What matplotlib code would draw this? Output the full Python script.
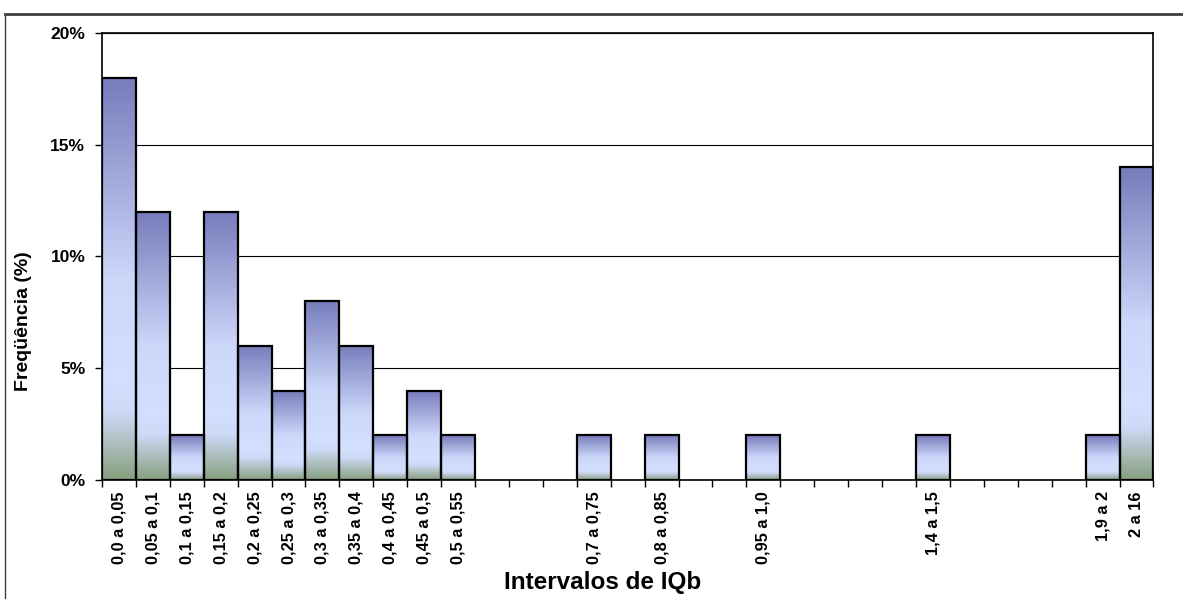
import matplotlib.pyplot as plt
import numpy as np
from matplotlib.colors import LinearSegmentedColormap
from matplotlib.patches import Rectangle
from matplotlib.lines import Line2D

plt.rcParams['font.family'] = ['Liberation Sans', 'DejaVu Sans']

# Dados
intervalos = ['0,0 a 0,05', '0,05 a 0,1', '0,1 a 0,15', '0,15 a 0,2', '0,2 a 0,25',
              '0,25 a 0,3', '0,3 a 0,35', '0,35 a 0,4', '0,4 a 0,45', '0,45 a 0,5',
              '0,5 a 0,55', '', '', '', '0,7 a 0,75', '', '0,8 a 0,85', '', '',
              '0,95 a 1,0', '', '', '', '', '1,4 a 1,5', '', '', '', '', '1,9 a 2', '2 a 16']
frequencia = [18, 12, 2, 12, 6, 4, 8, 6, 2, 4, 2, 0, 0, 0, 2, 0, 2, 0, 0,
              2, 0, 0, 0, 0, 2, 0, 0, 0, 0, 2, 14]

cmap = LinearSegmentedColormap.from_list(
    'grad', [(0.0, '#87a07f'), (0.17, '#cfdaf8'), (0.24, '#d4defe'),
             (0.5, '#cdd7fa'), (1.0, '#777cbb')])
grad = np.linspace(0, 1, 256).reshape(-1, 1)

fig = plt.figure(figsize=(11.83, 5.99), dpi=100)
ax = fig.add_axes([0.0862, 0.1987, 0.8888, 0.7463])

n = len(frequencia)
for i, v in enumerate(frequencia):
    if v <= 0:
        continue
    ax.imshow(grad, extent=(i, i + 1, 0, v), origin='lower', aspect='auto',
              cmap=cmap, zorder=2, interpolation='bilinear')
    ax.add_patch(Rectangle((i, 0), 1, v, facecolor='none', edgecolor='black',
                           linewidth=1.6, zorder=3))

ax.set_xlim(0, n)
ax.set_ylim(0, 20)
ax.set_yticks([0, 5, 10, 15, 20])
ax.set_yticklabels(['0%', '5%', '10%', '15%', '20%'], fontsize=12.5, fontweight='bold')
ax.yaxis.grid(True, color='black', linewidth=0.8, zorder=0)
ax.set_axisbelow(True)

ax.set_xticks(np.arange(n + 1), minor=False)
ax.set_xticklabels([])
ax.set_xticks(np.arange(n) + 0.5, minor=True)
ax.set_xticklabels(intervalos, minor=True, rotation=90, fontsize=11.8,
                   fontweight='bold')
ax.tick_params(axis='x', which='minor', length=0, pad=8)
ax.tick_params(axis='x', which='major', length=5, direction='out', width=1)
ax.tick_params(axis='y', length=5, width=1, pad=7)

for s in ax.spines.values():
    s.set_linewidth(1.2)
    s.set_color('black')

ax.set_xlabel('Intervalos de IQb', fontsize=17.5, fontweight='bold')
ax.xaxis.label.set_verticalalignment('center')
ax.xaxis.set_label_coords((603 - 102) / 1051.3, -(583 - 480) / 447)
ax.set_ylabel('Freqüência (%)', fontsize=14, fontweight='bold')
ax.yaxis.label.set_verticalalignment('center')
ax.yaxis.set_label_coords(-(102 - 24) / 1051.3, (480 - 321) / 447)

# moldura externa
fig.add_artist(Line2D([5 / 1183, 1], [1 - 14 / 599, 1 - 14 / 599],
                      transform=fig.transFigure, color='#404040', linewidth=2))
fig.add_artist(Line2D([5 / 1183, 5 / 1183], [0, 1 - 14 / 599],
                      transform=fig.transFigure, color='#404040', linewidth=1))

fig.savefig('out.png', dpi=100)
